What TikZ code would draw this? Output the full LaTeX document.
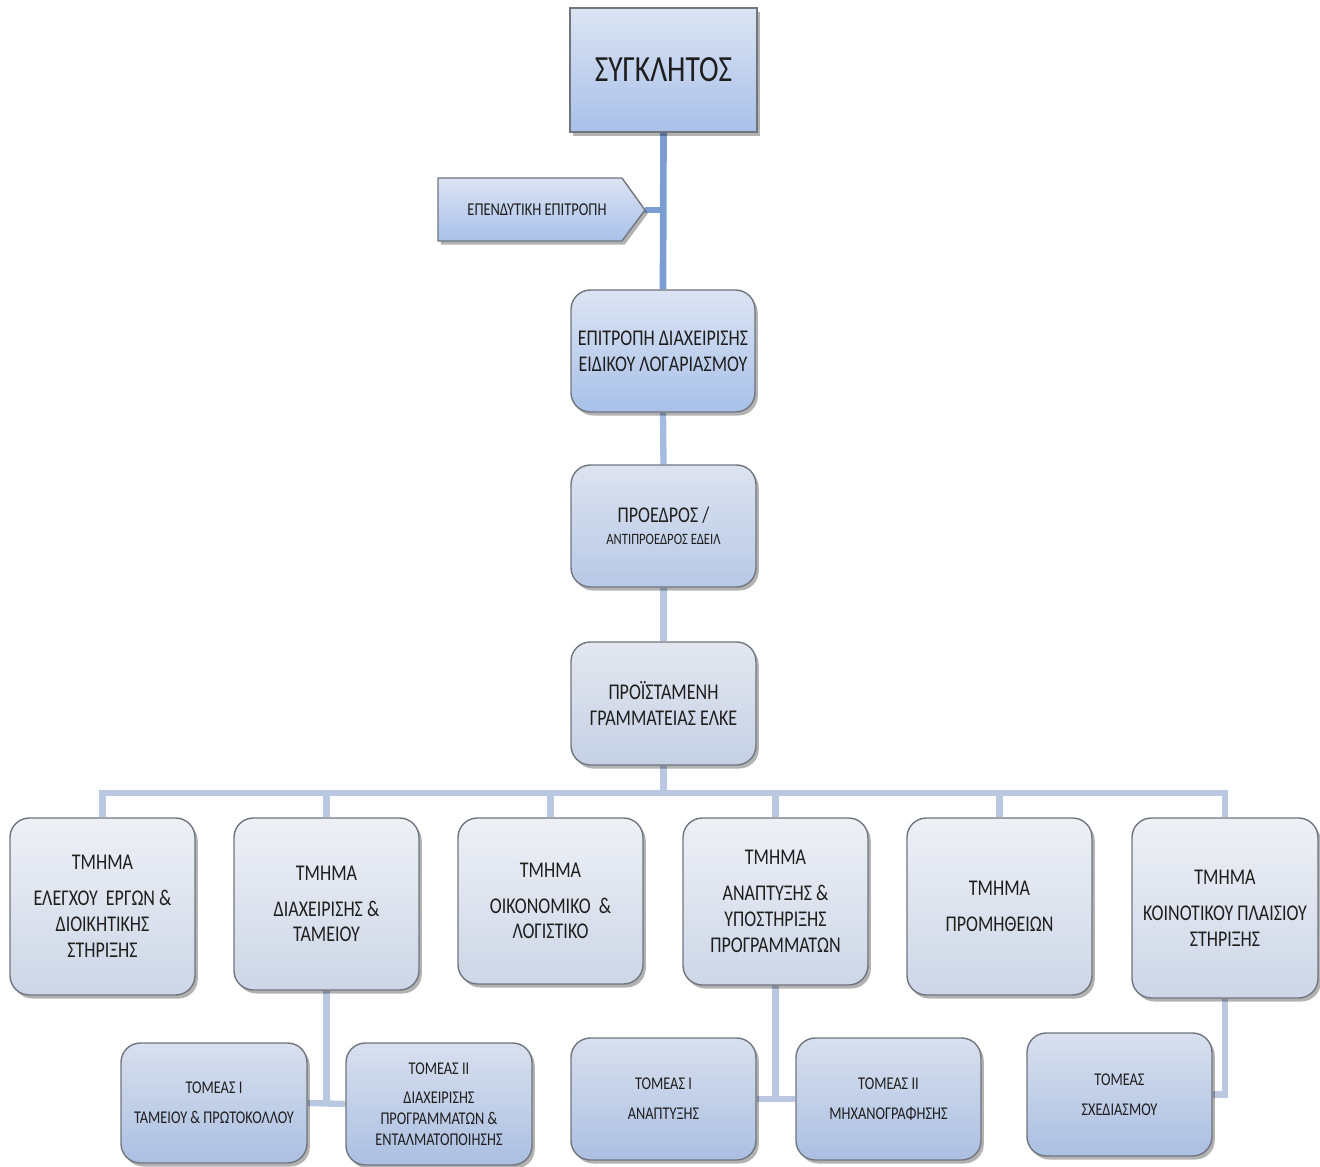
\documentclass[tikz,border=0pt]{standalone}
\usepackage{fontspec}
\setmainfont{Carlito}[FakeStretch=0.8]
\usetikzlibrary{shadows,backgrounds}
\definecolor{txt}{HTML}{1E1E1E}
\definecolor{lnA}{HTML}{7C9DD4}
\definecolor{lnB}{HTML}{A5BBE0}
\definecolor{lnC}{HTML}{B9C7E1}
\definecolor{sTop}{HTML}{DCE4F3}
\definecolor{sBot}{HTML}{A8C0E8}
\definecolor{pTop}{HTML}{DDE3F0}
\definecolor{pBot}{HTML}{B7C8E6}
\definecolor{gTop}{HTML}{E4E7EF}
\definecolor{gBot}{HTML}{C5D0E5}
\definecolor{rTop}{HTML}{EEF0F5}
\definecolor{rBot}{HTML}{CDD6E7}
\definecolor{bTop}{HTML}{D9E0EE}
\definecolor{bBot}{HTML}{ABBFE2}
\definecolor{edge}{HTML}{70757E}
\tikzset{
  base/.style={draw=edge, line width=0.8pt, text=txt, align=center, inner sep=0pt,
    drop shadow={shadow xshift=1.6pt, shadow yshift=-2pt, opacity=0.3, fill=black}},
  rbox/.style={base, rounded corners=11pt, minimum width=3.7cm},
  topbox/.style={base, top color=sTop, bottom color=sBot},
  bluebox/.style={rbox, top color=sTop, bottom color=sBot},
  presbox/.style={rbox, top color=pTop, bottom color=pBot},
  grambox/.style={rbox, top color=gTop, bottom color=gBot},
  rowbox/.style={rbox, top color=rTop, bottom color=rBot, font=\fontsize{12.8}{14.7}\selectfont},
  subbox/.style={rbox, top color=bTop, bottom color=bBot, font=\fontsize{10.2}{17}\selectfont},
  lineA/.style={draw=lnA, line width=3.8pt},
  lineB/.style={draw=lnB, line width=3.6pt},
  lineC/.style={draw=lnC, line width=3.6pt},
}
\begin{document}
\begin{tikzpicture}[x=0.02cm,y=-0.02cm]
\useasboundingbox (0,0) rectangle (1320,1167);

\coordinate (eptip) at (645,210);
\coordinate (busL) at (102.5,793);
\coordinate (busM) at (663.5,793);
\coordinate (busR) at (1225,793);

% top
\node[topbox, minimum width=3.74cm, minimum height=2.48cm, font=\fontsize{21}{25}\selectfont] (S) at (663.5,70) {ΣΥΓΚΛΗΤΟΣ};

% pentagon
\path[draw=edge, line width=0.8pt, top color=sTop, bottom color=sBot,
  drop shadow={shadow xshift=1.6pt, shadow yshift=-2pt, opacity=0.3, fill=black}]
  (438,178) -- (622,178) -- (eptip) -- (622,241) -- (438,241) -- cycle;
\node[text=txt, font=\fontsize{10.3}{11}\selectfont] (EP) at (537,210) {ΕΠΕΝΔΥΤΙΚΗ ΕΠΙΤΡΟΠΗ};

\node[bluebox, minimum width=3.68cm, minimum height=2.44cm, font=\fontsize{12.8}{14.7}\selectfont] (E1) at (663,351)
  {ΕΠΙΤΡΟΠΗ ΔΙΑΧΕΙΡΙΣΗΣ\\ΕΙΔΙΚΟΥ ΛΟΓΑΡΙΑΣΜΟΥ};
\node[presbox, minimum height=2.44cm] (P) at (663.5,526)
  {\fontsize{12.8}{14.7}\selectfont ΠΡΟΕΔΡΟΣ /\\[0.5pt]\fontsize{9}{10}\selectfont ΑΝΤΙΠΡΟΕΔΡΟΣ ΕΔΕΙΛ};
\node[grambox, minimum height=2.46cm, font=\fontsize{12.8}{14.7}\selectfont] (G) at (663.5,703.5)
  {ΠΡΟΪΣΤΑΜΕΝΗ\\ΓΡΑΜΜΑΤΕΙΑΣ ΕΛΚΕ};

% row
\node[rowbox, minimum height=3.54cm] (T1) at (102.5,906.5) {ΤΜΗΜΑ\\[5.7pt]ΕΛΕΓΧΟΥ\ \ ΕΡΓΩΝ \&\\ΔΙΟΙΚΗΤΙΚΗΣ\\ΣΤΗΡΙΞΗΣ};
\node[rowbox, minimum height=3.44cm] (T2) at (326.5,904) {ΤΜΗΜΑ\\[5.7pt]ΔΙΑΧΕΙΡΙΣΗΣ \&\\ΤΑΜΕΙΟΥ};
\node[rowbox, minimum height=3.32cm] (T3) at (550.5,901) {ΤΜΗΜΑ\\[5.7pt]ΟΙΚΟΝΟΜΙΚΟ \ \&\\ΛΟΓΙΣΤΙΚΟ};
\node[rowbox, minimum height=3.34cm] (T4) at (775.5,901.5) {ΤΜΗΜΑ\\[5.7pt]ΑΝΑΠΤΥΞΗΣ \&\\ΥΠΟΣΤΗΡΙΞΗΣ\\ΠΡΟΓΡΑΜΜΑΤΩΝ};
\node[rowbox, minimum height=3.54cm] (T5) at (999.5,906.5) {ΤΜΗΜΑ\\[5.7pt]ΠΡΟΜΗΘΕΙΩΝ};
\node[rowbox, minimum height=3.6cm, minimum width=3.72cm] (T6) at (1225,908) {ΤΜΗΜΑ\\[5.7pt]ΚΟΙΝΟΤΙΚΟΥ ΠΛΑΙΣΙΟΥ\\ΣΤΗΡΙΞΗΣ};

% bottom
\node[subbox, minimum width=3.72cm, minimum height=2.4cm] (A) at (214,1103) {ΤΟΜΕΑΣ Ι\\ΤΑΜΕΙΟΥ \& ΠΡΩΤΟΚΟΛΛΟΥ};
\node[subbox, minimum width=3.72cm, minimum height=2.44cm, font=\fontsize{10.2}{11.9}\selectfont] (B) at (439,1104)
  {ΤΟΜΕΑΣ ΙΙ\\[4.5pt]ΔΙΑΧΕΙΡΙΣΗΣ\\ΠΡΟΓΡΑΜΜΑΤΩΝ \&\\ΕΝΤΑΛΜΑΤΟΠΟΙΗΣΗΣ};
\node[subbox, minimum height=2.44cm] (C) at (663.5,1099) {ΤΟΜΕΑΣ Ι\\ΑΝΑΠΤΥΞΗΣ};
\node[subbox, minimum height=2.44cm] (D) at (888.5,1099) {ΤΟΜΕΑΣ ΙΙ\\ΜΗΧΑΝΟΓΡΑΦΗΣΗΣ};
\node[subbox, minimum height=2.46cm] (E) at (1119.5,1094.5) {ΤΟΜΕΑΣ\\ΣΧΕΔΙΑΣΜΟΥ};

% connectors behind the boxes
\begin{scope}[on background layer]
  \draw[lineA] (S.south) -- (E1.north);
  \draw[lineA] (eptip) -- (eptip -| S.south);
  \draw[lineB] (E1.south) -- (P.north);
  \draw[lineC] (P.south) -- (G.north);
  \draw[lineC] (G.south) -- (busM);
  \draw[lineC, line cap=rect] (busL) -- (busR);
  \foreach \t in {T1,T2,T3,T4,T5,T6} \draw[lineC] (\t.north) -- (\t.north |- busM);
  \draw[lineC] (T2.south) -- (T2.south |- A.east);
  \draw[lineC] (A.east) -- (B.west);
  \draw[lineC] (T4.south) -- (T4.south |- C.east);
  \draw[lineC] (C.east) -- (D.west);
  \draw[lineC] (T6.south) |- (E.east);
\end{scope}
\end{tikzpicture}
\end{document}
